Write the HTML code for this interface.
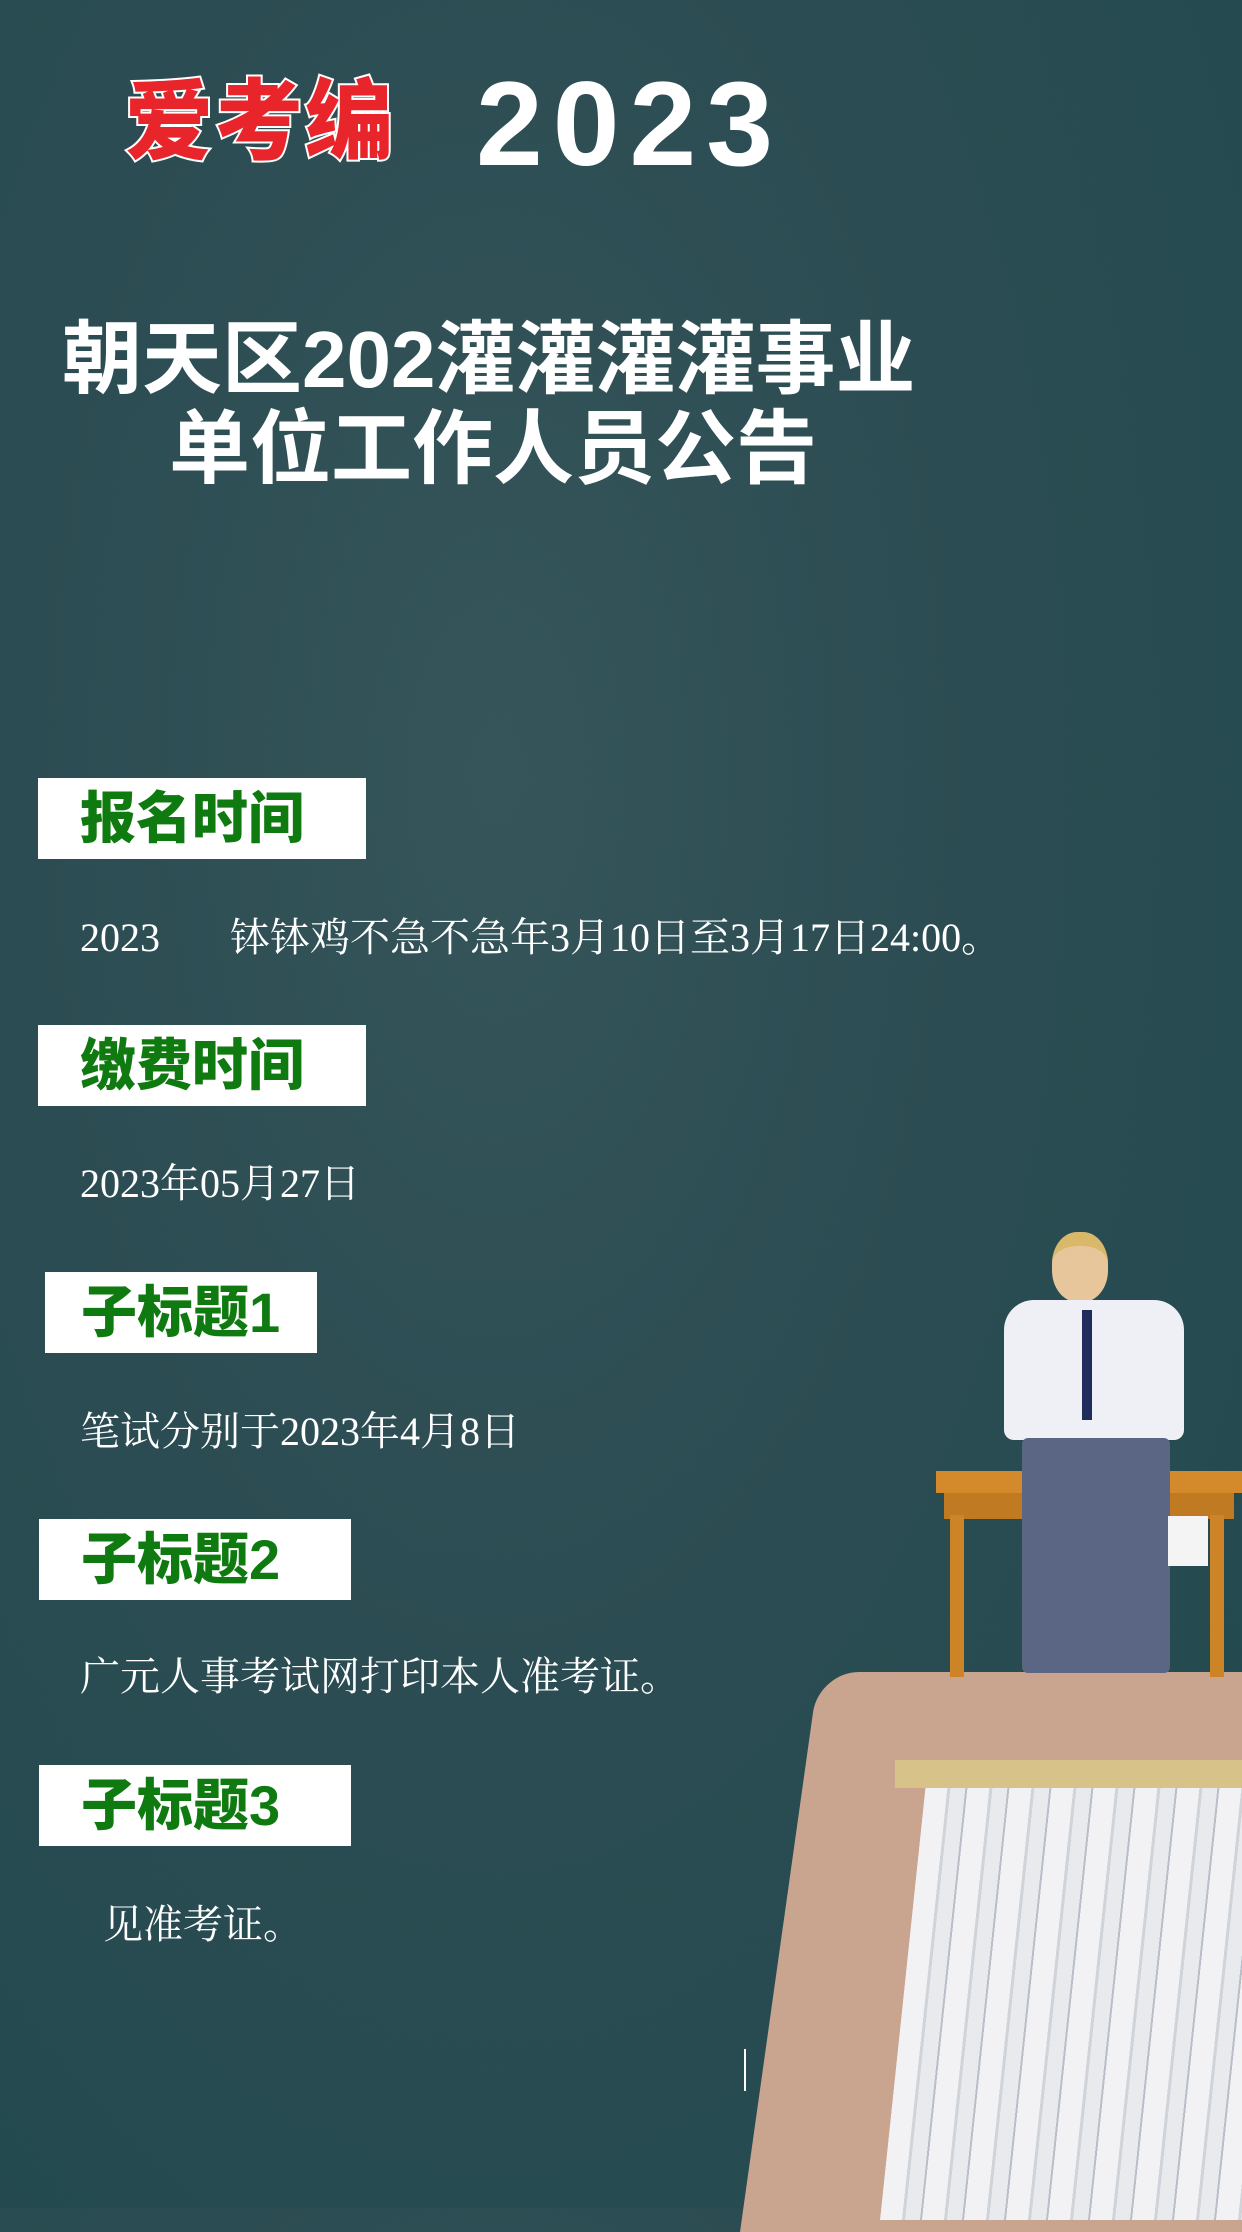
<!DOCTYPE html>
<html><head><meta charset="utf-8">
<style>
*{margin:0;padding:0;box-sizing:border-box}
body{width:1242px;height:2208px;overflow:hidden;position:relative;
background:radial-gradient(ellipse at 40% 35%,#35555a 0%,#2b4c52 45%,#214a4f 100%);
font-family:"Liberation Sans","Noto Sans CJK SC",sans-serif}
.abs{position:absolute}
.brand{left:125px;top:74px;font-size:88px;font-weight:900;color:#e8252a;
-webkit-text-stroke:4px #fff;paint-order:stroke fill;letter-spacing:2px;line-height:1.1}
.year{left:476px;top:58px;font-size:120px;font-weight:900;color:#fff;letter-spacing:10px;line-height:1.1}
.t1{left:62px;top:316px;font-size:80px;font-weight:bold;color:#fff;white-space:nowrap;line-height:1.1}
.t2{left:169px;top:406px;font-size:81px;font-weight:bold;color:#fff;white-space:nowrap;line-height:1.1}
.box{background:#fff;height:81px;color:#0f7a0f;font-weight:900;font-size:56px;line-height:81px;padding-left:42px;white-space:nowrap}
.txt{color:#fff;font-family:"Liberation Serif","Noto Serif CJK SC",serif;font-size:40px;white-space:nowrap;line-height:1}
</style></head><body>
<div class="abs brand">爱考编</div>
<div class="abs year">2023</div>
<div class="abs t1">朝天区202灌灌灌灌事业</div>
<div class="abs t2">单位工作人员公告</div>

<div class="abs box" style="left:38px;top:778px;width:328px">报名时间</div>
<div class="abs txt" style="left:80px;top:918px">2023&nbsp;&nbsp;&nbsp;&nbsp;&nbsp;&nbsp;&nbsp;钵钵鸡不急不急年3月10日至3月17日24:00。</div>

<div class="abs box" style="left:38px;top:1025px;width:328px">缴费时间</div>
<div class="abs txt" style="left:80px;top:1164px">2023年05月27日</div>

<div class="abs box" style="left:45px;top:1272px;width:272px;padding-left:36px">子标题1</div>
<div class="abs txt" style="left:80px;top:1412px">笔试分别于2023年4月8日</div>

<div class="abs box" style="left:39px;top:1519px;width:312px;padding-left:42px">子标题2</div>
<div class="abs txt" style="left:80px;top:1657px">广元人事考试网打印本人准考证。</div>

<div class="abs box" style="left:39px;top:1765px;width:312px;padding-left:42px">子标题3</div>
<div class="abs txt" style="left:103px;top:1905px">见准考证。</div>

<div class="abs" style="left:744px;top:2049px;width:2px;height:42px;background:#fff"></div>

<div class="abs" style="left:740px;top:1672px;width:520px;height:560px;background:#c9a58f;border-radius:40px 0 0 0;transform:skewX(-8deg);transform-origin:bottom left"></div>
<div class="abs" style="left:880px;top:1760px;width:380px;height:460px;
background:repeating-linear-gradient(90deg,#f2f2f4 0 22px,#cfd3da 22px 25px,#e8eaee 25px 40px,#b9bec8 40px 42px);transform:skewX(-6deg);transform-origin:bottom left"></div>
<div class="abs" style="left:895px;top:1760px;width:350px;height:28px;background:#d7c28a"></div>
<div class="abs" style="left:936px;top:1471px;width:306px;height:22px;background:#d48a2a"></div>
<div class="abs" style="left:944px;top:1493px;width:290px;height:26px;background:#c07a22"></div>
<div class="abs" style="left:950px;top:1515px;width:14px;height:162px;background:#cc8426"></div>
<div class="abs" style="left:1210px;top:1515px;width:14px;height:162px;background:#cc8426"></div>
<div class="abs" style="left:1052px;top:1232px;width:56px;height:70px;background:#e6c69a;border-radius:45%;border-top:14px solid #d9b86a"></div>
<div class="abs" style="left:1004px;top:1300px;width:180px;height:140px;background:#eef0f5;border-radius:30px 30px 10px 10px"></div>
<div class="abs" style="left:1082px;top:1310px;width:10px;height:110px;background:#1f2c5c"></div>
<div class="abs" style="left:1022px;top:1438px;width:148px;height:235px;background:#5a6683;border-radius:6px"></div>
<div class="abs" style="left:1168px;top:1516px;width:40px;height:50px;background:#f4f4f4"></div>
</body></html>
